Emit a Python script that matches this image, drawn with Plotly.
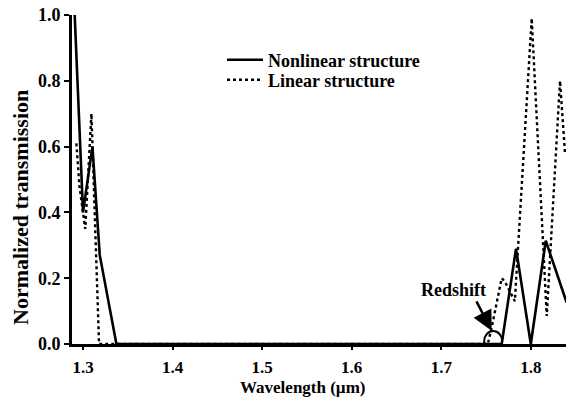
import plotly.graph_objects as go

# Nonlinear structure (solid)
nl_x = [1.2907, 1.3000, 1.3105, 1.3187, 1.3373, 1.7675, 1.7835, 1.8000, 1.8167, 1.8400]
nl_y = [1.00, 0.40, 0.60, 0.27, 0.00, 0.00, 0.29, 0.00, 0.314, 0.126]

# Linear structure (dotted)
lin_x = [1.2926, 1.2960, 1.3025, 1.3094, 1.3179, 1.7520, 1.7563, 1.7675, 1.7710, 1.7822, 1.8010, 1.8178, 1.8326, 1.8382]
lin_y = [0.61, 0.48, 0.35, 0.70, 0.00, 0.00, 0.05, 0.20, 0.19, 0.13, 0.99, 0.085, 0.80, 0.58]

x_ticks = [1.3, 1.4, 1.5, 1.6, 1.7, 1.8]
y_ticks = [0.0, 0.2, 0.4, 0.6, 0.8, 1.0]

FONT = "Liberation Serif"

fig = go.Figure()
fig.add_trace(go.Scatter(x=nl_x, y=nl_y, mode="lines", name="Nonlinear structure",
                         legend="legend", line=dict(color="black", width=2.6)))
fig.add_trace(go.Scatter(x=lin_x, y=lin_y, mode="lines", name="Linear structure",
                         legend="legend2", line=dict(color="black", width=2.4, dash="3px,3px")))

L, R, T, B = 72, 3, 15, 56
W, H = 569, 400
pw, ph = W - L - R, H - T - B

def px2paper(px, py):
    return (px - L) / pw, (H - B - py) / ph

leg_common = dict(xanchor="left", yanchor="middle", bgcolor="rgba(0,0,0,0)",
                  font=dict(family=FONT, size=18, weight="bold"), itemwidth=36)

fig.update_layout(
    width=W, height=H,
    margin=dict(l=L, r=R, t=T, b=B),
    plot_bgcolor="white", paper_bgcolor="white",
    font=dict(family=FONT, color="black", size=16),
    showlegend=True,
    legend=dict(x=px2paper(222, 0)[0], y=px2paper(0, 60)[1], **leg_common),
    legend2=dict(x=px2paper(222, 0)[0], y=px2paper(0, 80)[1], **leg_common),
    xaxis=dict(range=[1.2877, 1.8393], tickvals=x_ticks, ticktext=[f"{v:.1f}" for v in x_ticks],
               showgrid=False, zeroline=False, showline=True, linecolor="black", linewidth=3,
               ticks="outside", ticklen=3, tickwidth=1.5, tickcolor="black",
               tickfont=dict(family=FONT, size=17, weight="bold"), ticklabelstandoff=3),
    yaxis=dict(range=[0, 1.0], tickvals=y_ticks, ticktext=[f"{v:.1f}" for v in y_ticks],
               showgrid=False, zeroline=False, showline=True, linecolor="black", linewidth=3,
               ticks="outside", ticklen=5, tickwidth=2, tickcolor="black",
               tickfont=dict(family=FONT, size=18, weight="bold")),
)

xt, yt = px2paper(302, 388)
fig.add_annotation(text="Wavelength (µm)", xref="paper", yref="paper", x=xt, y=yt,
                   showarrow=False, xanchor="center", yanchor="middle",
                   font=dict(family=FONT, size=17, weight="bold"))
xt, yt = px2paper(21, 208)
fig.add_annotation(text="Normalized transmission", xref="paper", yref="paper", x=xt, y=yt,
                   showarrow=False, xanchor="center", yanchor="middle", textangle=-90,
                   font=dict(family=FONT, size=22, weight="bold"))

# Redshift label and arrow
xt, yt = px2paper(453, 290)
fig.add_annotation(text="Redshift", xref="paper", yref="paper", x=xt, y=yt,
                   showarrow=False, xanchor="center", yanchor="middle",
                   font=dict(family=FONT, size=18, weight="bold"))
fig.add_annotation(text="", x=1.7563, y=0.04, xref="x", yref="y",
                   showarrow=True, ax=-16, ay=-31, arrowhead=2, arrowsize=1.6,
                   arrowwidth=2.5, arrowcolor="black", standoff=0)
fig.add_shape(type="circle", xref="x", yref="y", xsizemode="pixel", ysizemode="pixel",
              xanchor=1.758, yanchor=0.009, x0=-9, x1=9, y0=-10, y1=10,
              line=dict(color="black", width=2))

fig.write_html("out.html", config={"displayModeBar": False},
               post_script="document.body.style.margin='0';")
